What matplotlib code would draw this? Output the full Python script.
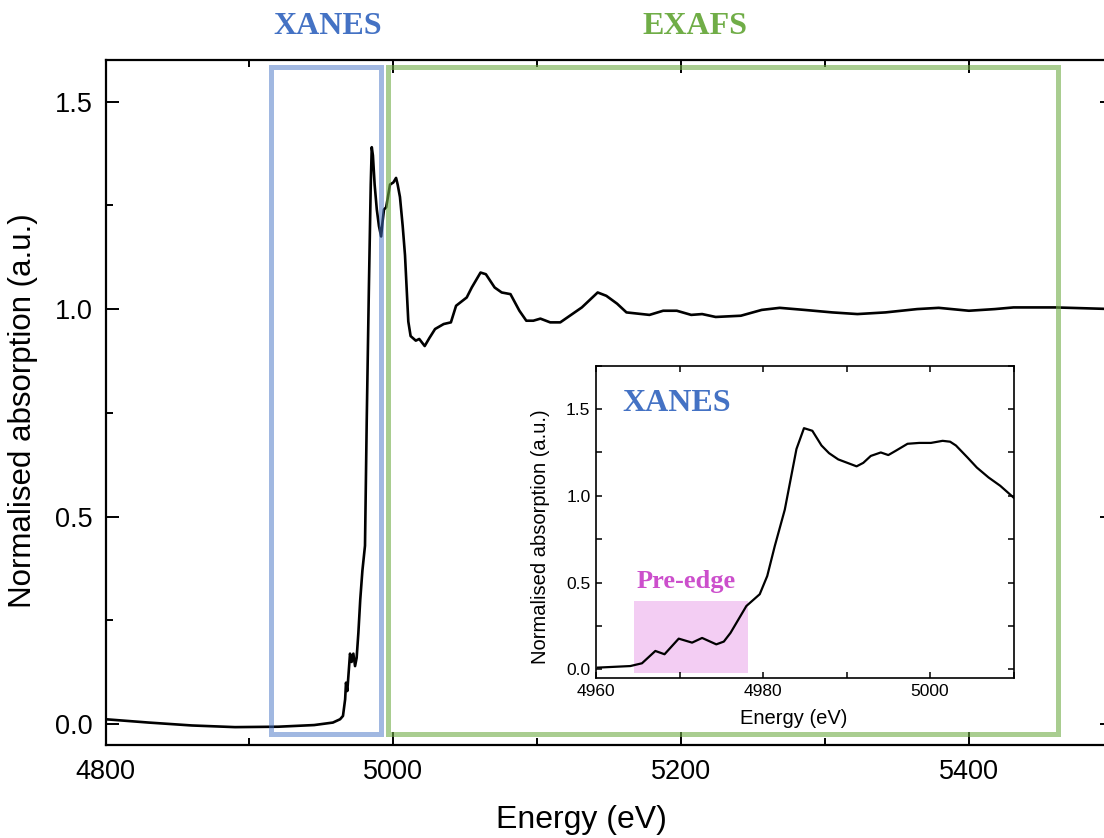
import matplotlib
matplotlib.use("Agg")
import matplotlib.pyplot as plt
from matplotlib.patches import Rectangle
from matplotlib.ticker import MultipleLocator

plt.rcParams["font.family"] = ["Liberation Sans", "DejaVu Sans"]

# ---- main spectrum (energy in eV, normalised absorption) ----
main_energy = [4800, 4830, 4860, 4890, 4920, 4945, 4958, 4963, 4965, 4966.5,
               4967.1, 4968, 4969.9, 4971, 4972.2, 4973.4, 4974.5, 4975.7, 4977, 4978.5,
               4980.3, 4981.5, 4983, 4984.3, 4985, 4985.8, 4987, 4988.5, 4990, 4991.5,
               4992.5, 4993.5, 4995, 4997.7, 5000, 5001.9, 5003, 5004.6, 5006.5, 5008.1,
               5010.4, 5012, 5015.6, 5018, 5021.8, 5025, 5029, 5035, 5040, 5043.6,
               5051, 5054.5, 5060.6, 5064.3, 5070.4, 5075.3, 5081.4, 5087.6, 5092.4, 5097.3,
               5102.2, 5109, 5116, 5121, 5131, 5142, 5148, 5155.5, 5162, 5178,
               5187.5, 5197, 5207, 5214.6, 5224, 5241.5, 5256, 5268.5, 5285.7, 5305,
               5322.5, 5342, 5364, 5379, 5400, 5418, 5431, 5460, 5500]
main_mu = [0.012, 0.004, -0.003, -0.007, -0.006, -0.002, 0.004, 0.012, 0.02, 0.06,
           0.10, 0.08, 0.17, 0.15, 0.17, 0.14, 0.16, 0.22, 0.30, 0.37,
           0.43, 0.73, 1.05, 1.30, 1.39, 1.37, 1.30, 1.24, 1.20, 1.175,
           1.21, 1.24, 1.245, 1.30, 1.305, 1.316, 1.30, 1.27, 1.20, 1.13,
           0.97, 0.935, 0.924, 0.928, 0.911, 0.93, 0.952, 0.964, 0.968, 1.008,
           1.028, 1.052, 1.088, 1.084, 1.052, 1.04, 1.036, 0.996, 0.972, 0.972,
           0.977, 0.968, 0.968, 0.98, 1.004, 1.04, 1.032, 1.013, 0.992, 0.986,
           0.996, 0.996, 0.986, 0.988, 0.981, 0.984, 0.998, 1.003, 0.998, 0.992,
           0.988, 0.992, 1.0, 1.003, 0.996, 1.0, 1.004, 1.004, 1.0]

# ---- inset: XANES region ----
xanes_energy = [4960.2, 4964.1, 4965.5, 4967.1, 4968.2, 4969.9, 4971.5, 4972.7, 4974.4, 4975.3,
                4976.1, 4978.0, 4979.6, 4980.5, 4981.4, 4982.6, 4984.0, 4984.9, 4985.9, 4987.0,
                4987.9, 4989.0, 4991.2, 4992.0, 4992.9, 4994.1, 4995.0, 4995.9, 4997.3, 4998.7,
                5000.1, 5001.5, 5002.4, 5003.1, 5004.5, 5005.6, 5007.0, 5008.4, 5010.0]
xanes_mu = [0.01, 0.019, 0.035, 0.106, 0.087, 0.177, 0.154, 0.181, 0.144, 0.160,
            0.21, 0.365, 0.433, 0.538, 0.71, 0.92, 1.27, 1.39, 1.375, 1.29,
            1.246, 1.21, 1.17, 1.19, 1.23, 1.25, 1.235, 1.26, 1.30, 1.305,
            1.305, 1.317, 1.312, 1.29, 1.22, 1.163, 1.106, 1.058, 0.99]

region_labels = ["XANES", "EXAFS"]
region_colors = ["#4472C4", "#70AD47"]

fig = plt.figure(figsize=(11.04, 8.38), dpi=100)

# ============================================================
# main axes (right spine sits just outside the canvas, as in the source)
# ============================================================
ax = fig.add_axes([0.0956, 0.1110, 0.9124, 0.8174])
ax.plot(main_energy, main_mu, color="black", lw=1.9, zorder=2)
ax.set_xlim(4800, 5500)
ax.set_ylim(-0.05, 1.6)
ax.xaxis.set_major_locator(MultipleLocator(200))
ax.xaxis.set_minor_locator(MultipleLocator(100))
ax.yaxis.set_major_locator(MultipleLocator(0.5))
ax.yaxis.set_minor_locator(MultipleLocator(0.25))
ax.yaxis.set_major_formatter(matplotlib.ticker.FormatStrFormatter("%.1f"))
ax.tick_params(which="both", direction="in", top=True, right=True, width=1.4)
ax.tick_params(which="major", length=9.5, labelsize=19.5)
ax.tick_params(which="minor", length=5)
ax.tick_params(axis="x", which="major", pad=10)
ax.tick_params(axis="y", which="major", pad=9)
for s in ax.spines.values():
    s.set_linewidth(1.6)
ax.set_xlabel("Energy (eV)", fontsize=23)
ax.set_ylabel("Normalised absorption (a.u.)", fontsize=22.5)
ax.xaxis.set_label_coords(0.472, -0.087)
ax.yaxis.set_label_coords(-0.067, 0.488)

# region boxes (drawn over the curve, semi-transparent)
ax.add_patch(Rectangle((4915.0, -0.023), 4991.6 - 4915.0, 1.583 + 0.023, fill=False,
                       edgecolor=region_colors[0], alpha=0.5, lw=3.6,
                       clip_on=False, zorder=3))
ax.add_patch(Rectangle((4996.3, -0.023), 5461.6 - 4996.3, 1.583 + 0.023, fill=False,
                       edgecolor=region_colors[1], alpha=0.6, lw=3.6,
                       clip_on=False, zorder=3))

fig.text(328 / 1104, 1 - 26 / 838, region_labels[0], color=region_colors[0],
         fontsize=23, fontweight="bold", family="Liberation Serif",
         ha="center", va="center")
fig.text(695 / 1104, 1 - 26 / 838, region_labels[1], color=region_colors[1],
         fontsize=23, fontweight="bold", family="Liberation Serif",
         ha="center", va="center")

# ============================================================
# inset: XANES zoom with pre-edge
# ============================================================
ins = fig.add_axes([0.5399, 0.1909, 0.3782, 0.3727])
ins.set_facecolor("white")
ins.set_zorder(5)
ins.add_patch(Rectangle((4964.5, -0.023), 4978.2 - 4964.5, 0.394 + 0.023,
                        facecolor="#F3CDF3", edgecolor="none", zorder=1))
ins.plot(xanes_energy, xanes_mu, color="black", lw=1.6, zorder=2)
ins.set_xlim(4960, 5010)
ins.set_ylim(-0.05, 1.75)
ins.xaxis.set_major_locator(MultipleLocator(20))
ins.xaxis.set_minor_locator(MultipleLocator(10))
ins.yaxis.set_major_locator(MultipleLocator(0.5))
ins.yaxis.set_minor_locator(MultipleLocator(0.25))
ins.yaxis.set_major_formatter(matplotlib.ticker.FormatStrFormatter("%.1f"))
ins.tick_params(which="both", direction="in", top=True, right=True, width=1.1)
ins.tick_params(which="major", length=4.5, labelsize=12.5, pad=4)
ins.tick_params(which="minor", length=4)
for s in ins.spines.values():
    s.set_linewidth(1.2)
ins.set_xlabel("Energy (eV)", fontsize=14.5)
ins.set_ylabel("Normalised absorption (a.u.)", fontsize=14.5)
ins.xaxis.set_label_coords(0.474, -0.098)
ins.yaxis.set_label_coords(-0.110, 0.451)

ins.text(0.193, 0.878, "XANES", transform=ins.transAxes, color=region_colors[0],
         fontsize=23, fontweight="bold", family="Liberation Serif",
         ha="center", va="center")
ins.text(4970.8, 0.505, "Pre-edge", color="#CC4FCC", fontsize=19,
         fontweight="bold", family="Liberation Serif", ha="center", va="center")

fig.savefig("out.png", dpi=100)
